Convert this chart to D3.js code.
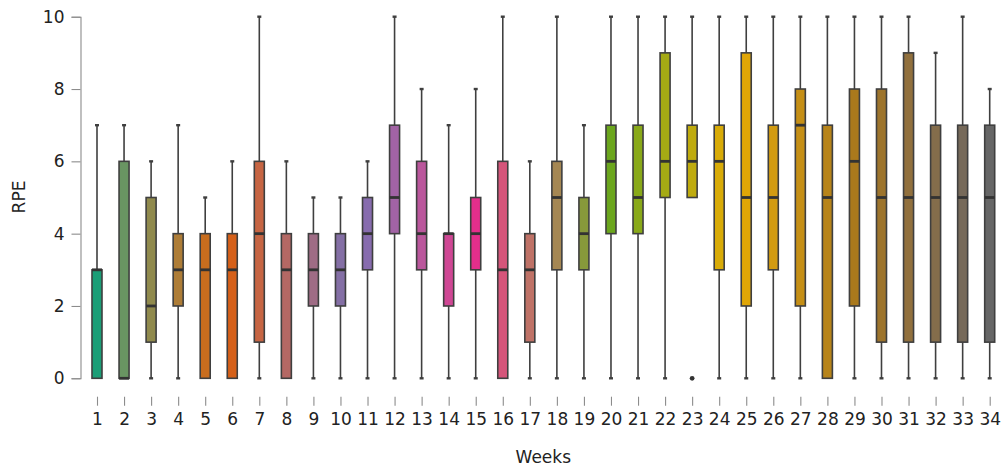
<!DOCTYPE html>
<html>
<head>
<meta charset="utf-8">
<script src="https://cdn.jsdelivr.net/npm/d3@7"></script>
<style>
  html, body { margin: 0; padding: 0; background: #fff; }
  svg { display: block; font-family: "DejaVu Sans", sans-serif; }
</style>
</head>
<body>
<svg id="chart" width="1004" height="469"></svg>
<script>
// Weekly RPE distribution: whisker ends, quartiles and medians per week
const weeks    = d3.range(1, 35).map(String);
const whiskLo  = [0,0,0,0,0,0,0,0,0,0,0,0,0,0,0,0,0,0,0,0,0,0,5,0,0,0,0,0,0,0,0,0,0,0];
const q1       = [0,0,1,2,0,0,1,0,2,2,3,4,3,2,3,0,1,3,3,4,4,5,5,3,2,3,2,0,2,1,1,1,1,1];
const medians  = [3,0,2,3,3,3,4,3,3,3,4,5,4,4,4,3,3,5,4,6,5,6,6,6,5,5,7,5,6,5,5,5,5,5];
const q3       = [3,6,5,4,4,4,6,4,4,4,5,7,6,4,5,6,4,6,5,7,7,9,7,7,9,7,8,7,8,8,9,7,7,7];
const whiskHi  = [7,7,6,7,5,6,10,6,5,5,6,10,8,7,8,10,6,10,7,10,10,10,10,10,10,10,10,10,10,10,10,9,10,8];
// Points beyond the whiskers: [week, value]
const outliers = [["23", 0]];
const yTicks   = [0, 2, 4, 6, 8, 10];

// Dark2 anchors, blended in Lab space across the weeks
const palette = ["#1b9e77", "#d95f02", "#7570b3", "#e7298a", "#66a61e", "#e6ab02", "#a6761d", "#666666"];
const colorAt = d3.piecewise(d3.interpolateLab, palette);

const svg = d3.select("#chart");
const x = d3.scalePoint().domain(weeks).range([97, 989.7]);
const y = d3.scaleLinear().domain([0, 10]).range([378.3, 16.7]);

const boxW = 10;
const capW = 4;
const dark = "#3f3f3f";

// Y axis with a left spine
const yAxis = svg.append("g")
  .attr("transform", "translate(80.5,0)")
  .call(d3.axisLeft(y).tickValues(yTicks).tickSize(9).tickPadding(7));
yAxis.select(".domain").attr("stroke", "#8c8c8c").attr("stroke-width", 1.1);
yAxis.selectAll(".tick line").attr("stroke", "#8c8c8c").attr("stroke-width", 1.1);
yAxis.selectAll(".tick text").attr("font-size", 17).attr("fill", "#222")
  .attr("font-family", "DejaVu Sans, sans-serif");

// X axis, offset below the plot, ticks only
const xAxis = svg.append("g")
  .attr("transform", "translate(0,396.7)")
  .call(d3.axisBottom(x).tickSize(9).tickPadding(7));
xAxis.select(".domain").remove();
xAxis.selectAll(".tick line").attr("stroke", "#8c8c8c").attr("stroke-width", 1.1);
xAxis.selectAll(".tick text").attr("font-size", 17).attr("fill", "#222")
  .attr("font-family", "DejaVu Sans, sans-serif");

// Axis titles
svg.append("text")
  .attr("x", 543.3).attr("y", 463)
  .attr("text-anchor", "middle")
  .attr("font-size", 17).attr("fill", "#222")
  .text("Weeks");
svg.append("text")
  .attr("transform", "translate(25,197) rotate(-90)")
  .attr("text-anchor", "middle")
  .attr("font-size", 17).attr("fill", "#222")
  .text("RPE");

const rows = weeks.map((w, i) => ({
  week: w, lo: whiskLo[i], q1: q1[i], med: medians[i], q3: q3[i], hi: whiskHi[i],
  color: colorAt(i / (weeks.length - 1))
}));

const g = svg.append("g").selectAll("g").data(rows).join("g");

// Whiskers
g.filter(d => d.hi > d.q3).append("line")
  .attr("x1", d => x(d.week)).attr("x2", d => x(d.week))
  .attr("y1", d => y(d.q3)).attr("y2", d => y(d.hi))
  .attr("stroke", dark).attr("stroke-width", 1.6);
g.filter(d => d.lo < d.q1).append("line")
  .attr("x1", d => x(d.week)).attr("x2", d => x(d.week))
  .attr("y1", d => y(d.q1)).attr("y2", d => y(d.lo))
  .attr("stroke", dark).attr("stroke-width", 1.6);

// Whisker caps
g.filter(d => d.hi > d.q3).append("line")
  .attr("x1", d => x(d.week) - capW / 2).attr("x2", d => x(d.week) + capW / 2)
  .attr("y1", d => y(d.hi)).attr("y2", d => y(d.hi))
  .attr("stroke", dark).attr("stroke-width", 2.4);
g.filter(d => d.lo < d.q1).append("line")
  .attr("x1", d => x(d.week) - capW / 2).attr("x2", d => x(d.week) + capW / 2)
  .attr("y1", d => y(d.lo)).attr("y2", d => y(d.lo))
  .attr("stroke", dark).attr("stroke-width", 2.4);

// Boxes
g.append("rect")
  .attr("x", d => x(d.week) - boxW / 2)
  .attr("width", boxW)
  .attr("y", d => y(d.q3))
  .attr("height", d => y(d.q1) - y(d.q3))
  .attr("fill", d => d.color)
  .attr("stroke", dark).attr("stroke-width", 1.6);

// Medians
g.append("line")
  .attr("x1", d => x(d.week) - boxW / 2).attr("x2", d => x(d.week) + boxW / 2)
  .attr("y1", d => y(d.med)).attr("y2", d => y(d.med))
  .attr("stroke", "#333").attr("stroke-width", 2.8);

// Outliers
svg.append("g").selectAll("circle").data(outliers).join("circle")
  .attr("cx", d => x(d[0])).attr("cy", d => y(d[1]))
  .attr("r", 2.4).attr("fill", "#333");
</script>
</body>
</html>
